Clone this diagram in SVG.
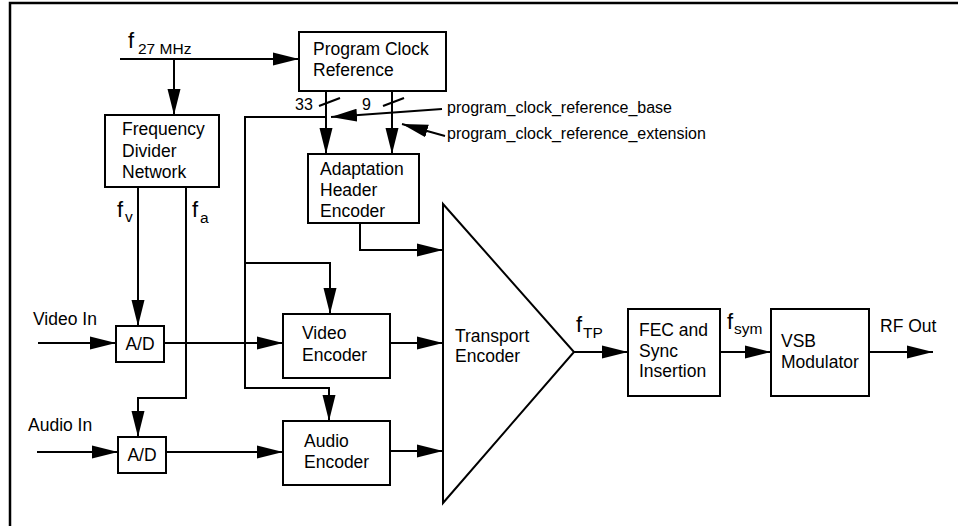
<svg xmlns="http://www.w3.org/2000/svg" width="958" height="526" viewBox="0 0 958 526">
<defs>
<marker id="ah" markerUnits="userSpaceOnUse" markerWidth="28" markerHeight="16" refX="26" refY="7" orient="auto">
<path d="M0,0.5 L26,7 L0,13.5 z" fill="#000"/>
</marker>
<style>
.b{fill:#fff;stroke:#000;stroke-width:2}
.l{fill:none;stroke:#000;stroke-width:2}
.a{fill:none;stroke:#000;stroke-width:2;marker-end:url(#ah)}
text{font-family:"Liberation Sans",Arial,sans-serif;fill:#000}
.t{font-size:17.5px}
.s{font-size:16px}
.f{font-size:22px}
.sub{font-size:15.5px}
</style>
</defs>
<rect width="958" height="526" fill="#fff"/>
<path d="M10,526 V3 H958" fill="none" stroke="#000" stroke-width="2.5"/>

<g id="connectors">
<path class="a" d="M120,59 H299"/>
<path class="a" d="M174,59 V115"/>
<path class="a" d="M326,91 V154"/>
<path class="a" d="M392,91 V154"/>
<path class="l" d="M319,106 L340,98"/>
<path class="l" d="M383,106 L404,98"/>
<path class="a" d="M326,117 H245 V388 H329 V421"/>
<path class="a" d="M245,263 H330 V314"/>
<path class="a" d="M442,109 L331,117"/>
<path class="a" d="M445,136 L402,124"/>
<path class="a" d="M360,223 V250 H443"/>
<path class="a" d="M138,187 V326"/>
<path class="a" d="M186,187 V398 H138 V437"/>
<path class="a" d="M38,343 H116"/>
<path class="a" d="M164,343 H283"/>
<path class="a" d="M37,452 H118"/>
<path class="a" d="M166,452 H283"/>
<path class="a" d="M390,343 H443"/>
<path class="a" d="M390,451 H443"/>
<path class="a" d="M574,352 H628"/>
<path class="a" d="M720,352 H771"/>
<path class="a" d="M869,352 H933"/>
</g>

<g id="labels">
<text class="f" x="128" y="48">f</text><text class="sub" x="138" y="54">27 MHz</text>
<text class="s" x="295" y="110">33</text>
<text class="s" x="362" y="110">9</text>
<text class="s" x="447" y="113">program_clock_reference_base</text>
<text class="s" x="447" y="139">program_clock_reference_extension</text>
<text class="f" x="117" y="217">f</text><text class="sub" x="125" y="222">v</text>
<text class="f" x="192" y="217">f</text><text class="sub" x="200" y="223">a</text>
<text class="t" x="33" y="325">Video In</text>
<text class="t" x="28" y="431">Audio In</text>
<text class="f" x="576" y="332">f</text><text class="sub" x="583" y="338">TP</text>
<text class="f" x="727" y="329">f</text><text class="sub" x="734" y="334">sym</text>
<text class="t" x="880" y="332">RF Out</text>
</g>

<g id="pcr"><rect class="b" x="299" y="32" width="147" height="59"/>
<text class="t" x="313" y="55">Program Clock</text><text class="t" x="313" y="76">Reference</text></g>

<g id="fdn"><rect class="b" x="105" y="115" width="114" height="72"/>
<text class="t" x="122" y="135">Frequency</text><text class="t" x="122" y="157">Divider</text><text class="t" x="122" y="178">Network</text></g>

<g id="ahe"><rect class="b" x="308" y="154" width="111" height="69"/>
<text class="t" x="320" y="175">Adaptation</text><text class="t" x="320" y="196">Header</text><text class="t" x="320" y="217">Encoder</text></g>

<g id="ad1"><rect class="b" x="116" y="326" width="48" height="36"/>
<text class="t" x="140" y="350" text-anchor="middle">A/D</text></g>

<g id="ad2"><rect class="b" x="118" y="437" width="48" height="36"/>
<text class="t" x="142" y="461" text-anchor="middle">A/D</text></g>

<g id="venc"><rect class="b" x="283" y="314" width="107" height="64"/>
<text class="t" x="302" y="339">Video</text><text class="t" x="302" y="361">Encoder</text></g>

<g id="aenc"><rect class="b" x="283" y="421" width="107" height="64"/>
<text class="t" x="304" y="447">Audio</text><text class="t" x="304" y="468">Encoder</text></g>

<g id="transport"><path class="b" d="M443,204 L574,352 L443,503 Z"/>
<text class="t" x="455" y="342">Transport</text><text class="t" x="455" y="362">Encoder</text></g>

<g id="fec"><rect class="b" x="628" y="309" width="92" height="87"/>
<text class="t" x="639" y="336">FEC and</text><text class="t" x="639" y="357">Sync</text><text class="t" x="639" y="377">Insertion</text></g>

<g id="vsb"><rect class="b" x="771" y="309" width="98" height="87"/>
<text class="t" x="781" y="347">VSB</text><text class="t" x="781" y="368">Modulator</text></g>
</svg>
